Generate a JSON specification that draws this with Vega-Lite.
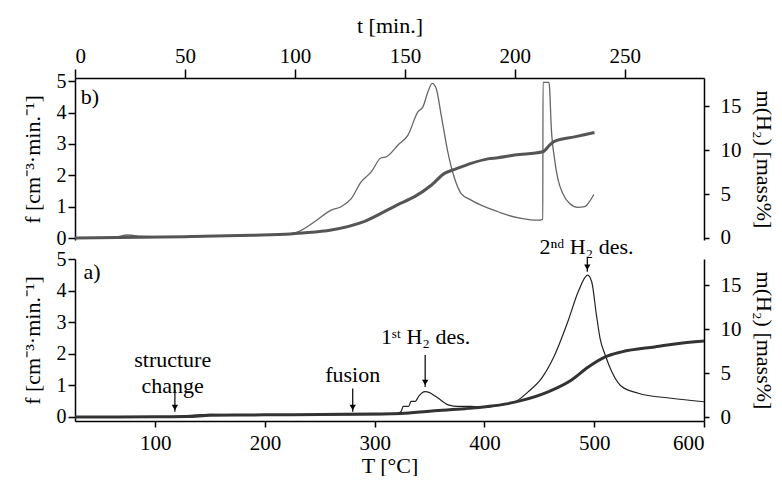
{
  "$schema": "https://vega.github.io/schema/vega-lite/v6.json",
  "padding": {"left": 20, "top": 14, "right": 4, "bottom": 0},
  "background": "white",
  "bounds": "flush",
  "spacing": 19,
  "config": {
    "font": "Liberation Serif",
    "view": {"stroke": null},
    "text": {"font": "Liberation Serif"},
    "axis": {
      "labelFont": "Liberation Serif", "titleFont": "Liberation Serif",
      "labelFontSize": 21, "titleFontSize": 22, "titleFontWeight": "normal", "labelOverlap": false,
      "labelColor": "black", "titleColor": "black", "domainColor": "black", "tickColor": "black",
      "grid": false, "domainWidth": 1.5, "tickWidth": 1.5, "tickSize": 6, "labelPadding": 2
    }
  },
  "datasets": {
    "b_f": [
      {"t":0,"f":0.0},{"t":10,"f":0.01},{"t":18,"f":0.03},{"t":24,"f":0.1},{"t":30,"f":0.06},{"t":40,"f":0.04},{"t":60,"f":0.06},{"t":80,"f":0.08},{"t":95,"f":0.12},{"t":98,"f":0.14},
      {"t":101.4,"f":0.2},{"t":108.9,"f":0.52},{"t":116.5,"f":0.89},{"t":121,"f":1.0},{"t":125.6,"f":1.26},{"t":130.1,"f":1.79},{"t":134.7,"f":2.11},{"t":139.2,"f":2.56},{"t":141.5,"f":2.59},{"t":146.8,"f":2.96},{"t":151.4,"f":3.28},{"t":155.9,"f":4.02},{"t":158.2,"f":4.18},{"t":160.5,"f":4.66},{"t":162.4,"f":4.93},{"t":164.2,"f":4.77},{"t":166.5,"f":3.92},{"t":169.5,"f":2.75},{"t":172.6,"f":1.9},{"t":175.6,"f":1.42},{"t":180.1,"f":1.21},{"t":186.2,"f":1.0},{"t":192.3,"f":0.84},{"t":196.8,"f":0.73},{"t":202.9,"f":0.63},{"t":210.5,"f":0.57},
      {"t":212.7,"f":0.6},{"t":212.8,"f":4.96},{"t":215.5,"f":4.96},{"t":215.8,"f":4.77},{"t":216.5,"f":3.6},{"t":218,"f":2.54},{"t":219.5,"f":1.9},{"t":221.8,"f":1.42},{"t":224.9,"f":1.1},{"t":228.6,"f":0.98},{"t":231.7,"f":1.0},{"t":233.9,"f":1.16},{"t":235.9,"f":1.39}
    ],
    "b_m": [
      {"t":0,"m":0.0},{"t":20,"m":0.05},{"t":50,"m":0.15},{"t":80,"m":0.3},{"t":98,"m":0.45},{"t":101.4,"m":0.53},{"t":116.5,"m":0.91},{"t":131.7,"m":1.9},{"t":146.8,"m":3.8},{"t":154.4,"m":4.7},{"t":162,"m":6.0},{"t":168,"m":7.35},{"t":172.6,"m":7.8},{"t":180.1,"m":8.49},{"t":187.7,"m":9.0},{"t":192.3,"m":9.13},{"t":199.9,"m":9.43},{"t":212.7,"m":9.8},{"t":215.8,"m":10.57},{"t":218,"m":11.0},{"t":227.1,"m":11.5},{"t":236.2,"m":12.0}
    ],
    "a_f": [
      {"T":27,"f":0.0},{"T":60,"f":0.0},{"T":100,"f":0.01},{"T":120,"f":0.02},{"T":135,"f":0.06},{"T":150,"f":0.08},{"T":170,"f":0.07},{"T":200,"f":0.06},{"T":250,"f":0.06},{"T":300,"f":0.07},{"T":320,"f":0.1},
      {"T":324,"f":0.17},{"T":326,"f":0.33},{"T":331,"f":0.33},{"T":333,"f":0.49},{"T":337,"f":0.49},{"T":340,"f":0.65},{"T":343,"f":0.76},{"T":346,"f":0.8},{"T":350,"f":0.77},{"T":355,"f":0.66},{"T":358,"f":0.59},{"T":367,"f":0.38},{"T":376,"f":0.33},{"T":388,"f":0.33},{"T":400,"f":0.3},{"T":412,"f":0.36},{"T":428,"f":0.48},{"T":440,"f":0.8},{"T":452,"f":1.22},{"T":464,"f":1.96},{"T":476,"f":3.02},{"T":485.5,"f":3.97},{"T":494,"f":4.49},{"T":497.7,"f":4.28},{"T":502,"f":3.23},{"T":505.3,"f":2.49},{"T":510,"f":1.96},{"T":516,"f":1.43},{"T":525,"f":0.96},{"T":540,"f":0.75},{"T":570,"f":0.59},{"T":600,"f":0.48}
    ],
    "a_m": [
      {"T":27,"m":0.0},{"T":100,"m":0.02},{"T":130,"m":0.05},{"T":150,"m":0.2},{"T":200,"m":0.25},{"T":250,"m":0.3},{"T":300,"m":0.35},{"T":324,"m":0.4},{"T":352,"m":0.7},{"T":382,"m":0.95},{"T":403,"m":1.2},{"T":420,"m":1.5},{"T":434,"m":1.9},{"T":458,"m":2.88},{"T":479,"m":4.2},{"T":494.6,"m":5.7},{"T":510,"m":6.85},{"T":525,"m":7.42},{"T":555,"m":7.99},{"T":598,"m":8.64},{"T":600,"m":8.65}
    ],
    "arrows": [
      {"T":118,"ytop":0.85,"ytip":0.16,"yh":0.3},
      {"T":280,"ytop":0.9,"ytip":0.16,"yh":0.3},
      {"T":346,"ytop":1.96,"ytip":0.95,"yh":1.09},
      {"T":493.7,"ytop":5.03,"ytip":4.6,"yh":4.74}
    ],
    "labels": [
      {"T":116,"f":1.8,"label":["structure","change"]},
      {"T":280,"f":1.33,"label":"fusion"},
      {"T":346.5,"f":2.53,"label":"1ˢᵗ H₂ des."},
      {"T":493,"f":5.38,"label":"2ⁿᵈ H₂ des."},
      {"T":42.5,"f":4.6,"label":"a)"}
    ]
  },
  "vconcat": [
    {
      "width": 629, "height": 162,
      "layer": [
        {"layer": [
          {"data": {"name": "b_f"}, "mark": {"type": "line", "color": "#666666", "strokeWidth": 1.3, "interpolate": "monotone"},
           "encoding": {
             "x": {"field": "t", "type": "quantitative", "scale": {"domain": [0, 286], "nice": false, "zero": false},
                   "axis": {"orient": "top", "title": "t [min.]", "values": [0, 50, 100, 150, 200, 250], "labelOverlap": false, "labelFont": "Liberation Serif", "titleFont": "Liberation Serif", "labelFontSize": 21, "titleFontSize": 22, "tickSize": 9, "labelPadding": 3, "titlePadding": 8}},
             "y": {"field": "f", "type": "quantitative", "title": "f [cm⁻³·min.⁻¹]", "scale": {"domain": [-0.06, 5.1], "nice": false, "zero": false},
                   "axis": {"values": [0, 1, 2, 3, 4, 5], "labelOverlap": false, "labelFont": "Liberation Serif", "titleFont": "Liberation Serif", "labelFontSize": 20, "titleFontSize": 22, "tickSize": 7, "labelPadding": 2, "titlePadding": 12}}
           }},
          {"data": {"values": [{"t": 6.8, "f": 4.5, "label": "b)"}]}, "mark": {"type": "text", "fontSize": 22, "align": "center", "baseline": "middle", "font": "Liberation Serif"},
           "encoding": {
             "x": {"field": "t", "type": "quantitative"},
             "y": {"field": "f", "type": "quantitative", "title": "f [cm⁻³·min.⁻¹]",
                   "axis": {"values": [0, 1, 2, 3, 4, 5], "labelOverlap": false, "labelFont": "Liberation Serif", "titleFont": "Liberation Serif", "labelFontSize": 20, "titleFontSize": 22, "tickSize": 7, "labelPadding": 2, "titlePadding": 12}},
             "text": {"field": "label"}
           }}
        ]},
        {"data": {"name": "b_m"}, "mark": {"type": "line", "color": "#555555", "strokeWidth": 3, "interpolate": "monotone"},
         "encoding": {
           "x": {"field": "t", "type": "quantitative"},
           "y": {"field": "m", "type": "quantitative", "title": "m(H₂) [mass%]", "scale": {"domain": [-0.23, 18.2], "nice": false, "zero": false},
                 "axis": {"orient": "right", "values": [0, 5, 10, 15], "labelOverlap": false, "labelFont": "Liberation Serif", "titleFont": "Liberation Serif", "labelFontSize": 21, "titleFontSize": 22, "tickSize": 5, "labelPadding": 11, "titlePadding": 10}}
         }}
      ],
      "resolve": {"scale": {"y": "independent"}}
    },
    {
      "width": 629, "height": 162,
      "layer": [
        {"layer": [
          {"data": {"name": "a_f"}, "mark": {"type": "line", "color": "#222222", "strokeWidth": 1.2, "interpolate": "monotone"},
           "encoding": {
             "x": {"field": "T", "type": "quantitative", "title": "T [°C]", "scale": {"domain": [27, 600], "nice": false, "zero": false},
                   "axis": {"values": [100, 200, 300, 400, 500, 600], "labelOverlap": false, "labelFont": "Liberation Serif", "titleFont": "Liberation Serif", "labelFontSize": 21, "titleFontSize": 22, "tickSize": 6, "labelPadding": 5, "titlePadding": 2}},
             "y": {"field": "f", "type": "quantitative", "title": "f [cm⁻³·min.⁻¹]", "scale": {"domain": [-0.13, 5.0], "nice": false, "zero": false},
                   "axis": {"values": [0, 1, 2, 3, 4, 5], "labelOverlap": false, "labelFont": "Liberation Serif", "titleFont": "Liberation Serif", "labelFontSize": 20, "titleFontSize": 22, "tickSize": 7, "labelPadding": 2, "titlePadding": 12}}
           }},
          {"data": {"name": "arrows"}, "mark": {"type": "rule", "color": "black", "strokeWidth": 1.2},
           "encoding": {
             "x": {"field": "T", "type": "quantitative", "title": "T [°C]"},
             "y": {"field": "ytop", "type": "quantitative", "title": "f [cm⁻³·min.⁻¹]",
                   "axis": {"values": [0, 1, 2, 3, 4, 5], "labelOverlap": false, "labelFont": "Liberation Serif", "titleFont": "Liberation Serif", "labelFontSize": 20, "titleFontSize": 22, "tickSize": 7, "labelPadding": 2, "titlePadding": 12}},
             "y2": {"field": "ytip"}
           }},
          {"data": {"name": "arrows"}, "mark": {"type": "point", "shape": "triangle-down", "filled": true, "color": "black", "size": 40, "opacity": 1},
           "encoding": {
             "x": {"field": "T", "type": "quantitative", "title": "T [°C]"},
             "y": {"field": "yh", "type": "quantitative", "title": "f [cm⁻³·min.⁻¹]",
                   "axis": {"values": [0, 1, 2, 3, 4, 5], "labelOverlap": false, "labelFont": "Liberation Serif", "titleFont": "Liberation Serif", "labelFontSize": 20, "titleFontSize": 22, "tickSize": 7, "labelPadding": 2, "titlePadding": 12}}
           }},
          {"data": {"name": "labels"}, "mark": {"type": "text", "fontSize": 22, "align": "center", "baseline": "middle", "lineHeight": 26, "font": "Liberation Serif"},
           "encoding": {
             "x": {"field": "T", "type": "quantitative", "title": "T [°C]"},
             "y": {"field": "f", "type": "quantitative", "title": "f [cm⁻³·min.⁻¹]",
                   "axis": {"values": [0, 1, 2, 3, 4, 5], "labelOverlap": false, "labelFont": "Liberation Serif", "titleFont": "Liberation Serif", "labelFontSize": 20, "titleFontSize": 22, "tickSize": 7, "labelPadding": 2, "titlePadding": 12}},
             "text": {"field": "label"}
           }}
        ]},
        {"data": {"name": "a_m"}, "mark": {"type": "line", "color": "#333333", "strokeWidth": 3, "interpolate": "monotone"},
         "encoding": {
           "x": {"field": "T", "type": "quantitative", "title": "T [°C]"},
           "y": {"field": "m", "type": "quantitative", "title": "m(H₂) [mass%]", "scale": {"domain": [-0.45, 18.0], "nice": false, "zero": false},
                 "axis": {"orient": "right", "values": [0, 5, 10, 15], "labelOverlap": false, "labelFont": "Liberation Serif", "titleFont": "Liberation Serif", "labelFontSize": 21, "titleFontSize": 22, "tickSize": 5, "labelPadding": 11, "titlePadding": 10}}
         }}
      ],
      "resolve": {"scale": {"y": "independent"}}
    }
  ]
}
